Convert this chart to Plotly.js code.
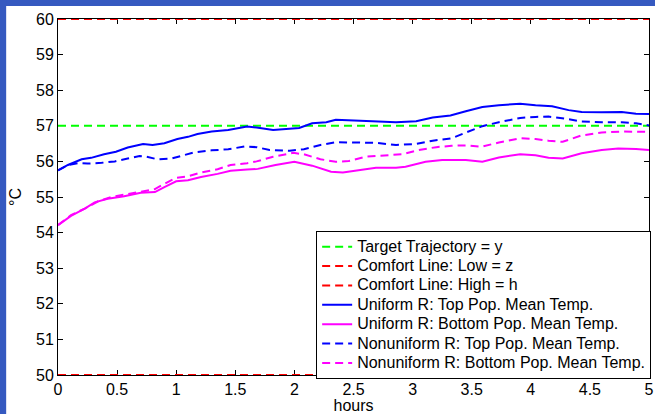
<!DOCTYPE html>
<html>
<head>
<meta charset="utf-8">
<script src="https://cdn.plot.ly/plotly-3.0.1.min.js"></script>
<style>
html,body{margin:0;padding:0;background:#fff;}
#chart{width:655px;height:414px;}
.legendtext{font-size:16px !important;}
</style>
</head>
<body>
<div id="chart"></div>
<script>
// ---- data ----
var limitHours = [0, 5];
var targetTemp = [57, 57];
var comfortLow = [50, 50];
var comfortHigh = [60, 60];

var uTopHours = [0, 0.084, 0.2, 0.28, 0.39, 0.49, 0.59, 0.72, 0.80, 0.90, 1.01, 1.10, 1.18, 1.30, 1.44, 1.51, 1.60, 1.68, 1.82, 1.93, 2.04, 2.15, 2.27, 2.35, 2.46, 2.66, 2.86, 3.03, 3.17, 3.32, 3.45, 3.59, 3.73, 3.91, 4.04, 4.18, 4.32, 4.43, 4.60, 4.77, 4.89, 5.0];
var uTopTemp  = [55.75, 55.90, 56.06, 56.10, 56.20, 56.27, 56.39, 56.49, 56.46, 56.51, 56.63, 56.69, 56.77, 56.84, 56.88, 56.93, 56.98, 56.95, 56.88, 56.91, 56.94, 57.07, 57.10, 57.17, 57.16, 57.13, 57.10, 57.13, 57.23, 57.29, 57.41, 57.53, 57.58, 57.62, 57.58, 57.55, 57.44, 57.39, 57.38, 57.39, 57.34, 57.33];

var uBotHours = [0, 0.11, 0.23, 0.31, 0.42, 0.56, 0.70, 0.82, 0.90, 1.0, 1.10, 1.21, 1.35, 1.46, 1.60, 1.69, 1.84, 2.0, 2.15, 2.31, 2.41, 2.55, 2.69, 2.86, 2.94, 3.11, 3.25, 3.45, 3.53, 3.59, 3.73, 3.91, 4.04, 4.15, 4.27, 4.43, 4.60, 4.74, 4.89, 5.0];
var uBotTemp  = [54.21, 54.47, 54.68, 54.85, 54.95, 55.02, 55.12, 55.14, 55.28, 55.44, 55.47, 55.56, 55.65, 55.74, 55.77, 55.79, 55.90, 55.99, 55.88, 55.71, 55.69, 55.75, 55.82, 55.82, 55.85, 55.99, 56.04, 56.04, 56.02, 55.99, 56.11, 56.20, 56.17, 56.10, 56.08, 56.23, 56.32, 56.36, 56.35, 56.32];

var nTopHours = [0, 0.084, 0.17, 0.25, 0.37, 0.48, 0.59, 0.69, 0.75, 0.84, 0.96, 1.04, 1.15, 1.30, 1.44, 1.58, 1.68, 1.79, 1.96, 2.08, 2.22, 2.35, 2.52, 2.69, 2.86, 3.03, 3.17, 3.33, 3.45, 3.59, 3.73, 3.91, 4.04, 4.15, 4.29, 4.43, 4.60, 4.77, 4.89, 5.0];
var nTopTemp  = [55.75, 55.90, 55.95, 55.94, 55.96, 56.00, 56.08, 56.15, 56.13, 56.06, 56.08, 56.15, 56.25, 56.31, 56.34, 56.42, 56.40, 56.32, 56.30, 56.34, 56.46, 56.54, 56.52, 56.52, 56.46, 56.49, 56.58, 56.65, 56.81, 56.99, 57.10, 57.22, 57.25, 57.26, 57.20, 57.12, 57.10, 57.10, 57.07, 57.01];

var nBotHours = [0, 0.11, 0.23, 0.34, 0.45, 0.56, 0.70, 0.82, 0.90, 1.0, 1.10, 1.21, 1.35, 1.46, 1.60, 1.68, 1.82, 1.99, 2.08, 2.22, 2.35, 2.46, 2.60, 2.77, 2.91, 3.05, 3.20, 3.33, 3.45, 3.58, 3.73, 3.91, 4.04, 4.15, 4.27, 4.43, 4.60, 4.77, 5.0];
var nBotTemp  = [54.21, 54.49, 54.68, 54.88, 55.00, 55.07, 55.16, 55.22, 55.37, 55.54, 55.58, 55.69, 55.78, 55.90, 55.95, 56.00, 56.13, 56.24, 56.20, 56.06, 55.99, 56.01, 56.13, 56.17, 56.20, 56.32, 56.40, 56.44, 56.45, 56.41, 56.53, 56.65, 56.63, 56.58, 56.55, 56.73, 56.81, 56.84, 56.83];

var xTicks = [0, 0.5, 1, 1.5, 2, 2.5, 3, 3.5, 4, 4.5, 5];
var xTickText = ['0', '0.5', '1', '1.5', '2', '2.5', '3', '3.5', '4', '4.5', '5'];
var yTicks = [50, 51, 52, 53, 54, 55, 56, 57, 58, 59, 60];

var names = [
  'Target Trajectory = y',
  'Comfort Line: Low = z',
  'Comfort Line: High = h',
  'Uniform R: Top Pop. Mean Temp.',
  'Uniform R: Bottom Pop. Mean Temp.',
  'Nonuniform R: Top Pop. Mean Temp.',
  'Nonuniform R: Bottom Pop. Mean Temp.'
];

// ---- styling ----
var DASH = '8px,5px';
function tr(x, y, name, color, dash) {
  return {
    x: x, y: y, name: name, type: 'scatter', mode: 'lines',
    cliponaxis: false,
    line: {color: color, width: 2, dash: dash || 'solid'},
    hoverinfo: 'skip'
  };
}
var traces = [
  tr(limitHours, targetTemp, names[0], '#00ff00', DASH),
  tr(limitHours, comfortLow, names[1], '#ff0000', DASH),
  tr(limitHours, comfortHigh, names[2], '#ff0000', DASH),
  tr(uTopHours, uTopTemp, names[3], '#0000ff'),
  tr(uBotHours, uBotTemp, names[4], '#ff00ff'),
  tr(nTopHours, nTopTemp, names[5], '#0000ff', DASH),
  tr(nBotHours, nBotTemp, names[6], '#ff00ff', DASH)
];

var FONT = 'Liberation Sans, Arial, Helvetica, sans-serif';
var BLUE = '#3559c0';
var layout = {
  width: 655, height: 414,
  margin: {l: 58, r: 4, t: 19, b: 39, pad: 0},
  paper_bgcolor: '#ffffff',
  plot_bgcolor: '#ffffff',
  font: {family: FONT, size: 16, color: '#000'},
  showlegend: true,
  legend: {
    x: 0.4368, y: 0.4045, xanchor: 'left', yanchor: 'top',
    bgcolor: '#ffffff', bordercolor: '#000', borderwidth: 1,
    font: {family: FONT, size: 12.6, color: '#000'},
    itemwidth: 30, tracegroupgap: 0
  },
  xaxis: {
    range: [0, 5], tickvals: xTicks, ticktext: xTickText,
    ticks: 'inside', ticklen: 5, tickcolor: '#000', tickwidth: 1,
    showline: true, linecolor: '#000', linewidth: 1, mirror: 'ticks',
    showgrid: false, zeroline: false, layer: 'below traces',
    tickfont: {family: FONT, size: 16, color: '#000'},
    title: {text: 'hours', font: {family: FONT, size: 16, color: '#000'}, standoff: 0}
  },
  yaxis: {
    range: [50, 60], tickvals: yTicks,
    ticks: 'inside', ticklen: 5, tickcolor: '#000', tickwidth: 1,
    showline: true, linecolor: '#000', linewidth: 1, mirror: 'ticks',
    showgrid: false, zeroline: false, layer: 'below traces',
    tickfont: {family: FONT, size: 16, color: '#000'},
    title: {text: '°C', font: {family: FONT, size: 16, color: '#000'}, standoff: 10}
  },
  shapes: [
    {type: 'rect', xref: 'paper', yref: 'paper', x0: -0.2, x1: 1.1, y0: (375 - 6) / 356, y1: 1.2,
     fillcolor: BLUE, line: {width: 0}, layer: 'below'},
    {type: 'rect', xref: 'paper', yref: 'paper', x0: -0.2, x1: (6 - 58) / 593, y0: -0.2, y1: 1.2,
     fillcolor: BLUE, line: {width: 0}, layer: 'below'}
  ]
};

Plotly.newPlot('chart', traces, layout, {staticPlot: true, displayModeBar: false});
</script>
</body>
</html>
